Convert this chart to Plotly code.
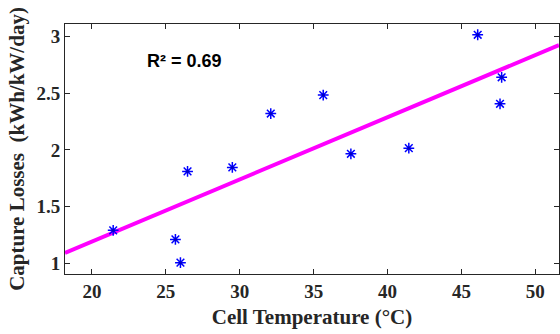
import numpy as np
import plotly.graph_objects as go

cell_temp = [21.44, 25.65, 25.99, 26.47, 29.5, 32.1, 35.65, 37.52, 41.44, 46.1, 47.72, 47.61]
capture_losses = [1.29, 1.21, 1.005, 1.81, 1.845, 2.32, 2.483, 1.965, 2.015, 3.015, 2.64, 2.406]
x_ticks = [20, 25, 30, 35, 40, 45, 50]
y_ticks = [1, 1.5, 2, 2.5, 3]
y_tick_labels = ["1", "1.5", "2", "2.5", "3"]
x_range = [18.18, 51.6]
y_range = [0.905, 3.11]
r2_label = "R² = 0.69"

slope, intercept = np.polyfit(cell_temp, capture_losses, 1)
fit_x = np.array(x_range)
fit_y = slope * fit_x + intercept

fig = go.Figure()
fig.add_trace(go.Scatter(x=fit_x, y=fit_y, mode="lines",
                         line=dict(color="#ff00ff", width=4), showlegend=False))
fig.add_trace(go.Scatter(x=cell_temp, y=capture_losses, mode="markers",
                         marker=dict(symbol="asterisk-open", size=9, color="#0000ff",
                                     line=dict(color="#0000ff", width=1.5)),
                         showlegend=False))
fig.add_trace(go.Scatter(x=cell_temp, y=capture_losses, mode="markers",
                         marker=dict(symbol="circle", size=3, color="#0000c0",
                                     line=dict(width=0)),
                         showlegend=False))
fig.add_annotation(x=23.6, y=2.78, text="<b>" + r2_label + "</b>", showarrow=False,
                   xanchor="left", yanchor="middle",
                   font=dict(family="Liberation Sans", size=18, color="black"))

axis_common = dict(showgrid=False, zeroline=False, showline=True, linecolor="#262626",
                   linewidth=1, mirror="ticks", ticks="inside", ticklen=5,
                   tickcolor="#262626",
                   tickfont=dict(family="Liberation Serif", size=19, color="#262626"))
fig.update_xaxes(range=x_range, tickvals=x_ticks,
                 ticktext=["<b>%d</b>" % v for v in x_ticks],
                 title=dict(text="<b>Cell Temperature (°C)</b>", standoff=8,
                            font=dict(family="Liberation Serif", size=21, color="#262626")),
                 **axis_common)
fig.update_yaxes(range=y_range, tickvals=y_ticks,
                 ticktext=["<b>%s</b>" % t for t in y_tick_labels],
                 title=dict(text="<b>Capture Losses  (kWh/kW/day)</b>", standoff=6,
                            font=dict(family="Liberation Serif", size=21, color="#262626")),
                 **axis_common)
fig.update_layout(width=560, height=334, margin=dict(l=65, r=1, t=24, b=60),
                  paper_bgcolor="white", plot_bgcolor="white")
fig.write_html("out.html", config={"displayModeBar": False},
               post_script="document.body.style.margin='0px';")
